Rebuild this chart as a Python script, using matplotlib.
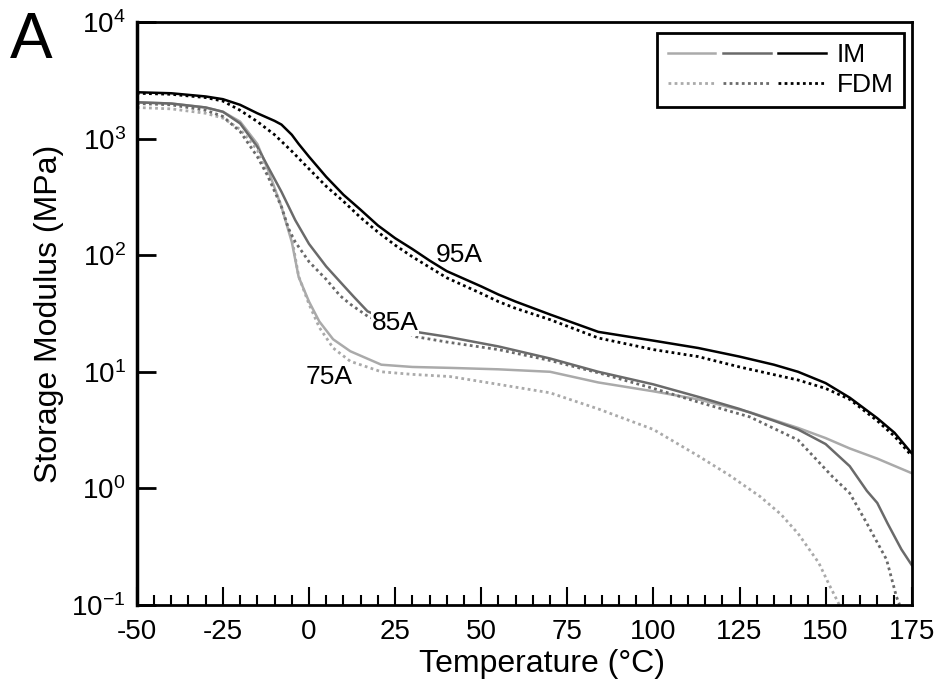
import numpy as np
import matplotlib
matplotlib.use("Agg")
import matplotlib.pyplot as plt
from matplotlib.legend_handler import HandlerTuple
from matplotlib.ticker import MultipleLocator, LogLocator, NullLocator

plt.rcParams['font.family'] = ['Liberation Sans', 'DejaVu Sans']
plt.rcParams['mathtext.default'] = 'regular'
plt.rcParams['axes.unicode_minus'] = False

# 95A
t_95_im = [-50, -40, -30, -25, -20, -15, -10, -8, -5, -3, 0, 5, 10, 15, 20, 25, 30, 35, 40, 50, 55, 60, 70, 84,
           100, 113, 125, 135, 142, 150, 157, 165, 170, 175]
e_95_im = [2500, 2450, 2300, 2180, 1950, 1650, 1420, 1320, 1080, 900, 700, 470, 330, 245, 180, 140, 113, 90, 73,
           54, 46, 40, 31, 22, 18.5, 16, 13.5, 11.5, 10, 8, 6, 4, 3, 2.0]
t_95_fdm = [-50, -40, -30, -25, -20, -15, -10, -5, 0, 5, 10, 15, 20, 25, 30, 40, 50, 55, 60, 70, 84, 100, 113,
            125, 142, 150, 157, 165, 170, 175]
e_95_fdm = [2450, 2400, 2250, 2100, 1750, 1400, 1080, 780, 550, 390, 290, 210, 158, 122, 97, 64, 47, 40, 35,
            28, 19.5, 15.5, 13.5, 11, 8.5, 7.2, 5.8, 3.8, 2.8, 1.9]

# 85A
t_85_im = [-50, -40, -30, -25, -20, -15, -12, -8, -4, 0, 5, 10, 13, 17, 31, 40, 55, 70, 84, 100, 113, 125, 135,
           142, 150, 157, 162, 165, 168, 172, 175]
e_85_im = [2050, 2000, 1850, 1700, 1350, 850, 580, 350, 200, 125, 80, 55, 44, 33, 22, 20, 16.5, 13, 10, 7.8,
           6.1, 4.8, 3.8, 3.2, 2.4, 1.55, 0.95, 0.75, 0.5, 0.3, 0.22]
t_85_fdm = [-50, -40, -30, -25, -20, -15, -12, -8, -6, -4, 0, 5, 9, 12, 17, 31, 40, 55, 70, 84, 100, 113, 128,
            142, 152, 157, 162, 167.7, 170.6, 171.5]
e_85_fdm = [2000, 1950, 1750, 1550, 1150, 700, 480, 260, 170, 130, 88, 62, 45, 38, 30, 20, 18, 15.5, 12.5, 9.8,
            7.2, 5.5, 4.1, 2.6, 1.26, 0.91, 0.5, 0.245, 0.117, 0.1]

# 75A
t_75_im = [-50, -40, -30, -25, -20, -15, -12, -8, -5, -3, 0, 3, 7, 12, 21, 30, 41, 55, 70, 84, 100, 113, 128,
           142, 150, 157, 165, 175]
e_75_im = [2050, 2000, 1850, 1700, 1400, 900, 550, 260, 130, 65, 40, 27, 19, 15, 11.5, 11, 10.8, 10.5, 10, 8.1,
           6.8, 5.8, 4.5, 3.3, 2.7, 2.2, 1.8, 1.35]
t_75_fdm = [-50, -40, -30, -25, -20, -15, -12, -8.7, -5, -3, 0, 3, 7, 12, 21, 30, 41, 55, 70, 84, 100, 113,
            122, 131, 137, 142, 148, 151, 154]
e_75_fdm = [1850, 1800, 1650, 1500, 1200, 800, 500, 300, 140, 66, 38, 24, 16, 12.3, 10, 9.5, 9.1, 7.8, 6.6,
            4.8, 3.2, 1.9, 1.3, 0.85, 0.6, 0.41, 0.23, 0.15, 0.1]

c75, c85, c95 = '#aaaaaa', '#6a6a6a', '#000000'

fig = plt.figure(figsize=(9.37, 6.89), dpi=100)
ax = fig.add_axes([0.146, 0.122, 0.827, 0.846])

l75, = ax.plot(t_75_im, e_75_im, color=c75, lw=1.8)
l85, = ax.plot(t_85_im, e_85_im, color=c85, lw=1.8)
l95, = ax.plot(t_95_im, e_95_im, color=c95, lw=1.8)
d75, = ax.plot(t_75_fdm, e_75_fdm, color=c75, lw=2, ls=(0, (1, 1.2)))
d85, = ax.plot(t_85_fdm, e_85_fdm, color=c85, lw=2, ls=(0, (1, 1.2)))
d95, = ax.plot(t_95_fdm, e_95_fdm, color=c95, lw=2, ls=(0, (1, 1.2)))

ax.set_yscale('log')
ax.set_xlim(-50, 175)
ax.set_ylim(0.1, 1e4)
ax.xaxis.set_major_locator(MultipleLocator(25))
ax.xaxis.set_minor_locator(MultipleLocator(5))
ax.yaxis.set_major_locator(LogLocator(base=10, numticks=10))
ax.yaxis.set_minor_locator(NullLocator())
ax.tick_params(axis='x', which='major', direction='in', length=13, width=1.5, labelsize=20, pad=10)
ax.tick_params(axis='x', which='minor', direction='in', length=7, width=1.5)
ax.tick_params(axis='y', which='major', direction='in', length=14, width=2, labelsize=20, pad=8)
for side in ['left', 'bottom', 'right', 'top']:
    ax.spines[side].set_linewidth(2)
ax.spines['left'].set_linewidth(2.5)

ax.set_xlabel('Temperature (°C)', fontsize=23, labelpad=3)
ax.set_ylabel('Storage Modulus (MPa)', fontsize=23, labelpad=5)
ax.xaxis.label.set_x(0.523)

ax.text(43.6, 100, '95A', fontsize=19, ha='center', va='center')
ax.text(25, 26, '85A', fontsize=19, ha='center', va='center',
        bbox=dict(facecolor='white', edgecolor='none', pad=0.5))
ax.text(5.8, 9.0, '75A', fontsize=19, ha='center', va='center')

leg = ax.legend([(l75, l85, l95), (d75, d85, d95)], ['IM', 'FDM'],
                handler_map={tuple: HandlerTuple(ndivide=None, pad=0.3)},
                loc='upper right', bbox_to_anchor=(0.99, 0.982), fontsize=19,
                handlelength=6.0, handletextpad=0.4, labelspacing=0.22,
                borderpad=0.4, borderaxespad=0, fancybox=False, framealpha=1, edgecolor='black')
leg.get_frame().set_linewidth(2)

fig.text(0.033, 0.94, 'A', fontsize=46, ha='center', va='center')

fig.savefig('out.png', dpi=100)
